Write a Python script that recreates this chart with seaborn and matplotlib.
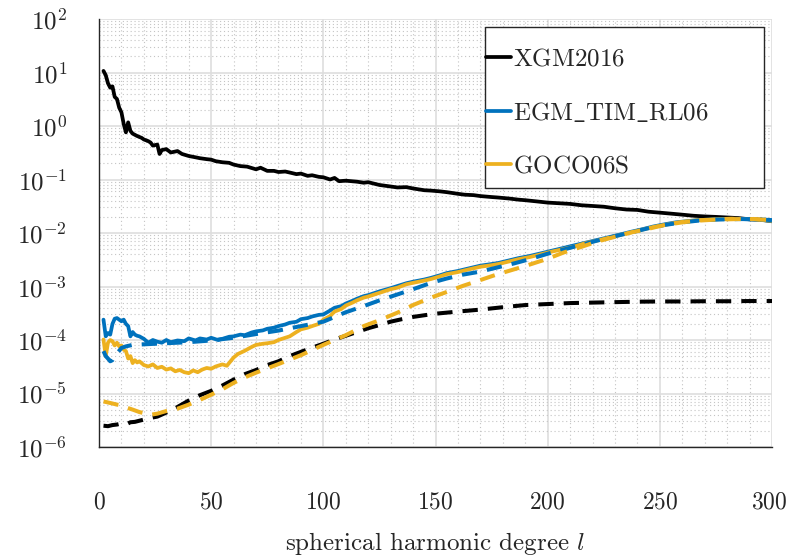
import numpy as np
import pandas as pd
import matplotlib
matplotlib.use("Agg")
import matplotlib.pyplot as plt
from matplotlib.patches import Rectangle
from matplotlib.ticker import MultipleLocator, LogLocator, NullFormatter
from matplotlib.transforms import ScaledTranslation
import seaborn as sns

# ---------------- data ----------------
deg_xgm = [2,3,4,5,6,7,8,9,10,11,12,13,14,15,17,19,20,22,23,24,26,27,28,30,32,35,37,40,43,45,48,50,52,55,58,60,63,66,70,72,75,78,80,83,85,88,90,93,95,98,100,103,105,107,110,115,118,120,125,130,133,137,140,145,148,152,155,160,163,167,170,175,178,183,187,190,195,200,205,210,215,220,225,230,235,240,245,250,255,260,265,270,275,280,285,290,295,300]
xgm_signal = [10.7,8.9,6.3,5.2,5.5,3.5,3.2,2.2,1.8,1.1,0.76,1.17,0.81,0.72,0.65,0.60,0.56,0.52,0.49,0.43,0.45,0.30,0.355,0.37,0.32,0.34,0.30,0.275,0.26,0.25,0.24,0.235,0.22,0.21,0.205,0.19,0.178,0.174,0.155,0.166,0.145,0.145,0.138,0.141,0.135,0.126,0.129,0.117,0.12,0.112,0.11,0.100,0.107,0.093,0.095,0.091,0.087,0.089,0.079,0.074,0.071,0.072,0.068,0.063,0.062,0.060,0.058,0.054,0.052,0.051,0.049,0.047,0.046,0.044,0.042,0.041,0.039,0.037,0.036,0.035,0.033,0.032,0.031,0.029,0.0275,0.027,0.025,0.024,0.023,0.022,0.021,0.0204,0.020,0.0195,0.019,0.018,0.0178,0.0166]

deg_egm = [2,3,4,5,6,7,8,9,10,11,12,13,14,15,16,17,18,20,22,24,26,28,30,32,35,38,40,43,45,48,50,53,55,58,60,63,65,68,70,73,75,78,80,83,85,88,90,93,95,98,100,103,105,108,110,113,115,118,120,125,130,133,137,140,145,148,152,155,160,163,167,170,175,178,183,187,192,197,202,207,212,217,222,227,232,237,242,247,252,257,262,267,272,277,282,287,292,296,300]
egm_diff = [2.4e-4,1.17e-4,1.35e-4,1.26e-4,2.0e-4,2.5e-4,2.57e-4,2.4e-4,2.24e-4,2.4e-4,2.0e-4,1.82e-4,1.17e-4,1.41e-4,1.26e-4,1.2e-4,1.17e-4,1.05e-4,8.9e-5,1.0e-4,9.3e-5,8.9e-5,1.0e-4,9.1e-5,9.8e-5,9.5e-5,1.07e-4,9.8e-5,1.07e-4,1.02e-4,1.1e-4,1.0e-4,1.05e-4,1.15e-4,1.17e-4,1.26e-4,1.23e-4,1.38e-4,1.45e-4,1.51e-4,1.62e-4,1.7e-4,1.82e-4,1.95e-4,2.1e-4,2.19e-4,2.45e-4,2.57e-4,2.75e-4,2.95e-4,3.0e-4,3.55e-4,4.0e-4,4.3e-4,4.8e-4,5.4e-4,5.9e-4,6.6e-4,6.9e-4,8.1e-4,9.3e-4,1.02e-3,1.15e-3,1.23e-3,1.35e-3,1.45e-3,1.62e-3,1.78e-3,1.95e-3,2.09e-3,2.29e-3,2.45e-3,2.63e-3,2.75e-3,3.09e-3,3.39e-3,3.72e-3,4.17e-3,4.68e-3,5.25e-3,5.9e-3,6.6e-3,7.4e-3,8.3e-3,9.3e-3,1.05e-2,1.17e-2,1.32e-2,1.45e-2,1.58e-2,1.66e-2,1.74e-2,1.78e-2,1.82e-2,1.82e-2,1.82e-2,1.78e-2,1.74e-2,1.66e-2]

deg_goco = [2,3,4,5,6,7,8,9,10,11,12,13,14,15,16,17,18,20,22,24,26,28,30,32,34,36,38,40,42,44,46,48,50,52,55,57,60,62,65,68,70,73,75,78,80,83,85,88,90,93,95,98,100,103,105,108,110,113,115,118,120,125,130,133,137,140,145,148,152,155,160,163,167,170,175,178,183,187,192,197,202,207,212,217,222,227,232,237,242,247,252,257,262,267,272,277,282,287,292,296,300]
goco_diff = [1.02e-4,5.0e-5,8.9e-5,1.0e-4,9.5e-5,7.9e-5,8.9e-5,7.6e-5,7.9e-5,6.6e-5,6.2e-5,4.5e-5,5.0e-5,3.7e-5,4.2e-5,3.8e-5,4.0e-5,3.4e-5,3.2e-5,3.5e-5,3.0e-5,3.16e-5,2.8e-5,2.95e-5,2.6e-5,2.75e-5,2.5e-5,2.4e-5,2.7e-5,2.5e-5,2.8e-5,3.0e-5,2.9e-5,3.2e-5,3.5e-5,3.3e-5,4.7e-5,5.5e-5,6.3e-5,7.4e-5,8.1e-5,8.5e-5,8.7e-5,9.1e-5,1.0e-4,1.1e-4,1.17e-4,1.41e-4,1.58e-4,1.7e-4,1.82e-4,2.0e-4,2.4e-4,2.8e-4,3.4e-4,3.8e-4,4.4e-4,5.0e-4,5.5e-4,6.2e-4,6.5e-4,7.6e-4,8.9e-4,9.5e-4,1.1e-3,1.17e-3,1.29e-3,1.38e-3,1.55e-3,1.7e-3,1.86e-3,2.0e-3,2.19e-3,2.34e-3,2.5e-3,2.63e-3,2.95e-3,3.24e-3,3.55e-3,4.0e-3,4.5e-3,5.0e-3,5.6e-3,6.5e-3,7.2e-3,8.1e-3,9.1e-3,1.02e-2,1.15e-2,1.29e-2,1.41e-2,1.55e-2,1.66e-2,1.74e-2,1.78e-2,1.82e-2,1.86e-2,1.82e-2,1.82e-2,1.74e-2,1.7e-2]

deg_xgm_err = [2,4,6,8,10,12,14,16,18,20,23,26,30,35,40,45,50,55,60,65,70,75,80,85,90,95,100,105,110,115,120,125,130,135,140,145,150,160,170,180,190,200,210,220,230,240,250,260,270,280,290,300]
xgm_err = [2.5e-6,2.45e-6,2.57e-6,2.63e-6,2.75e-6,2.63e-6,2.9e-6,2.95e-6,3.1e-6,3.25e-6,3.5e-6,3.7e-6,4.4e-6,5.6e-6,7.4e-6,9.3e-6,1.12e-5,1.41e-5,1.82e-5,2.3e-5,2.75e-5,3.4e-5,4.0e-5,5.0e-5,6.0e-5,7.2e-5,8.5e-5,1.02e-4,1.2e-4,1.41e-4,1.66e-4,1.9e-4,2.2e-4,2.45e-4,2.7e-4,2.9e-4,3.1e-4,3.4e-4,3.7e-4,4.1e-4,4.5e-4,4.7e-4,4.9e-4,5.0e-4,5.1e-4,5.2e-4,5.25e-4,5.25e-4,5.3e-4,5.3e-4,5.35e-4,5.35e-4]

deg_egm_err = [2,3,4,5,6,7,8,9,10,12,15,20,25,30,40,50,60,70,80,90,100,110,118,125,133,140,148,155,162,170,177,185,192,200,207,215,222,230,237,245,252,260,267,275,285,292,300]
egm_err = [6.2e-5,5.0e-5,4.5e-5,4.0e-5,4.2e-5,5.0e-5,5.6e-5,6.3e-5,7.1e-5,7.6e-5,8.1e-5,8.3e-5,8.5e-5,8.7e-5,9.1e-5,9.8e-5,1.1e-4,1.29e-4,1.5e-4,1.82e-4,2.2e-4,3.3e-4,4.3e-4,5.5e-4,7.1e-4,8.9e-4,1.17e-3,1.41e-3,1.66e-3,1.9e-3,2.24e-3,2.7e-3,3.24e-3,4.1e-3,4.9e-3,6.0e-3,7.2e-3,8.7e-3,1.02e-2,1.23e-2,1.41e-2,1.58e-2,1.7e-2,1.78e-2,1.82e-2,1.82e-2,1.74e-2]

deg_goco_err = [2,4,6,8,10,12,15,18,20,23,26,30,35,40,45,50,55,60,65,70,75,80,85,90,95,100,105,110,118,125,133,140,148,155,162,170,177,185,192,200,207,215,222,230,237,245,252,260,267,275,285,292,300]
goco_err = [7.1e-6,6.8e-6,6.5e-6,6.2e-6,6.0e-6,5.5e-6,5.0e-6,4.5e-6,4.3e-6,4.0e-6,4.2e-6,4.7e-6,5.2e-6,6.2e-6,7.6e-6,9.5e-6,1.2e-5,1.58e-5,2.0e-5,2.45e-5,2.95e-5,3.55e-5,4.3e-5,5.2e-5,6.5e-5,8.1e-5,1.0e-4,1.23e-4,1.82e-4,2.34e-4,3.24e-4,4.5e-4,6.2e-4,7.9e-4,1.02e-3,1.32e-3,1.66e-3,2.09e-3,2.57e-3,3.3e-3,4.3e-3,5.5e-3,6.9e-3,8.5e-3,1.02e-2,1.2e-2,1.41e-2,1.58e-2,1.7e-2,1.78e-2,1.82e-2,1.82e-2,1.74e-2]

labels = [r"$\mathrm{XGM2016}$", r"$\mathrm{EGM\_TIM\_RL06}$", r"$\mathrm{GOCO06S}$"]
colors = ["#000000", "#0072BD", "#EDB120"]
x_ticks = [0, 50, 100, 150, 200, 250, 300]
x_label = r"spherical harmonic degree $l$"

# ---------------- style ----------------
sns.set_style("white")
plt.rcParams.update({
    "font.family": "serif",
    "font.serif": ["cmr10"],
    "mathtext.fontset": "cm",
    "axes.formatter.use_mathtext": True,
    "font.size": 18,
})

fig = plt.figure(figsize=(7.87, 5.56), dpi=100)
ax = fig.add_axes([99/787, 109/556, 673/787, 428/556])

LW = 2.7
solid = [(deg_xgm, xgm_signal, colors[0]),
         (deg_egm, egm_diff, colors[1]),
         (deg_goco, goco_diff, colors[2])]
dashed = [(deg_xgm_err, xgm_err, colors[0]),
          (deg_egm_err, egm_err, colors[1]),
          (deg_goco_err, goco_err, colors[2])]

handles = []
for (d, v, c), lab in zip(solid, labels):
    df = pd.DataFrame({"l": d, "v": v})
    sns.lineplot(data=df, x="l", y="v", color=c, lw=LW, ax=ax, legend=False, zorder=3)
    handles.append(ax.lines[-1])
for d, v, c in dashed:
    df = pd.DataFrame({"l": d, "v": v})
    sns.lineplot(data=df, x="l", y="v", color=c, lw=LW + 0.2, ax=ax, legend=False, zorder=3)
    ax.lines[-1].set_dashes((3.8, 2.5))

ax.set_yscale("log")
ax.set_xlim(0, 300)
ax.set_ylim(1e-6, 1e2)
ax.set_xticks(x_ticks)
ax.xaxis.set_minor_locator(MultipleLocator(10))
ax.yaxis.set_major_locator(LogLocator(base=10, numticks=20))
ax.yaxis.set_minor_locator(LogLocator(base=10, subs=np.arange(2, 10), numticks=20))
ax.yaxis.set_minor_formatter(NullFormatter())

ax.grid(which="major", color="#dedede", lw=1.2, ls="-", zorder=0)
ax.grid(which="minor", color="#c4c4c4", lw=0.8, ls=(0, (1, 2.5)), zorder=0)
ax.set_axisbelow(True)

for s in ["top", "right"]:
    ax.spines[s].set_visible(False)
for s in ["left", "bottom"]:
    ax.spines[s].set_color("#262626")
    ax.spines[s].set_linewidth(1.0)

ax.tick_params(axis="both", which="major", direction="in", length=6, width=0.9,
               color="#262626", labelcolor="#262626")
ax.tick_params(axis="x", which="major", pad=32, labelsize=17)
ax.tick_params(axis="y", which="major", pad=23, labelsize=18)
ax.tick_params(which="minor", length=0)

ax.set_xlabel(x_label, fontsize=18, color="#262626", labelpad=12)
ax.set_ylabel("")

fig.canvas.draw()
last = ax.get_xticklabels()[-1]
last.set_transform(last.get_transform() + ScaledTranslation(-3/100, 0, fig.dpi_scale_trans))

# legend box
x0, x1 = (485 - 99) / 673, (764 - 99) / 673
y1, y0 = (447 - 27) / 428, (447 - 188) / 428
ax.add_patch(Rectangle((x0, y0), x1 - x0, y1 - y0, transform=ax.transAxes,
                       facecolor="white", edgecolor="#262626", lw=1.0, zorder=5))
leg = ax.legend(handles, labels, loc="upper left",
                bbox_to_anchor=(x0 + 0.002, y1 - 0.05), frameon=False,
                handlelength=1.0, handletextpad=0.05, labelspacing=1.2,
                borderpad=0.0, borderaxespad=0.0, fontsize=18)
leg.set_zorder(6)
for t in leg.get_texts():
    t.set_color("#262626")

fig.savefig("out.png", dpi=100)
